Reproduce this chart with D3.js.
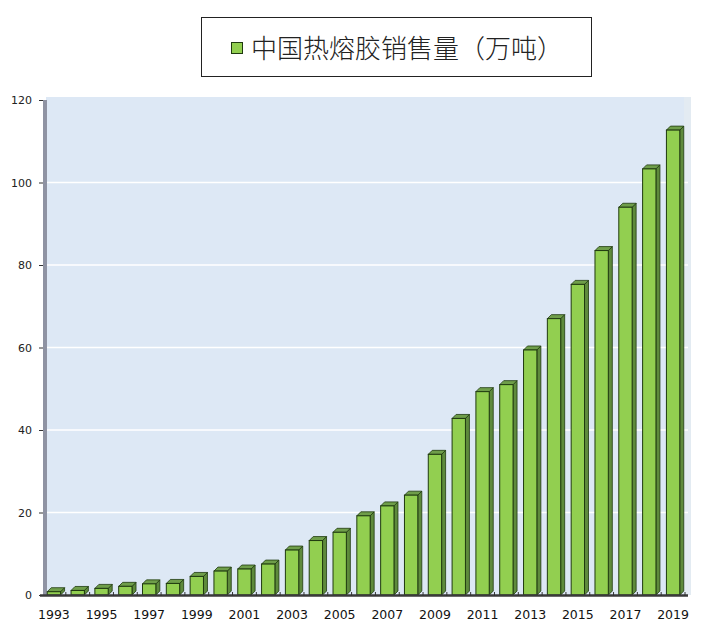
<!DOCTYPE html>
<html>
<head>
<meta charset="utf-8">
<script src="https://cdn.jsdelivr.net/npm/d3@7"></script>
<style>
  body { margin: 0; background: #fff; }
  svg { display: block; }
</style>
</head>
<body>
<div id="chart"></div>
<script>
const years = ["1993","1994","1995","1996","1997","1998","1999","2000","2001","2002",
    "2003","2004","2005","2006","2007","2008","2009","2010","2011","2012",
    "2013","2014","2015","2016","2017","2018","2019"];
const sales = [0.8, 1.1, 1.6, 2.1, 2.7, 2.8, 4.5, 5.8, 6.3, 7.5,
    10.9, 13.2, 15.2, 19.2, 21.6, 24.2, 34.1, 42.8, 49.3, 51.0,
    59.4, 67.0, 75.3, 83.5, 94.0, 103.3, 112.7];
const yTicks = [0, 20, 40, 60, 80, 100, 120];
const legendLabel = "中国热熔胶销售量（万吨）";

const width = 715;
const height = 629;
const depth = 4;

const svg = d3.select("#chart").append("svg")
    .attr("width", width)
    .attr("height", height);

const x = d3.scaleBand().domain(years).range([42, 685]).paddingInner(0.44).paddingOuter(0.22);
const y = d3.scaleLinear().domain([0, 120]).range([595, 100]);

// back wall
svg.append("rect")
    .attr("x", 46).attr("y", y(120) - 3)
    .attr("width", 645).attr("height", y(0) - y(120) + 3)
    .attr("fill", "#dde8f5");
svg.append("rect")
    .attr("x", 684).attr("y", y(120) - 3)
    .attr("width", 7).attr("height", y(0) - y(120) + 3)
    .attr("fill", "#e3ebf2");

// gridlines
svg.append("g")
    .selectAll("line")
    .data(yTicks.filter(d => d > 0 && d < 120))
    .enter().append("line")
    .attr("x1", 47).attr("x2", 688)
    .attr("y1", d => y(d)).attr("y2", d => y(d))
    .attr("stroke", "#ffffff")
    .attr("stroke-width", 1.5);

// left wall strip
svg.append("rect")
    .attr("x", 43).attr("y", y(120))
    .attr("width", 4).attr("height", y(0) - y(120))
    .attr("fill", "#8f93a3");

// y axis
const yAxis = d3.axisLeft(y).tickValues(yTicks).tickSize(4).tickPadding(7);
const gy = svg.append("g")
    .attr("transform", "translate(43,0)")
    .call(yAxis);
gy.select(".domain").remove();
gy.selectAll("line").attr("stroke", "#333");
gy.selectAll("text")
    .attr("font-family", "'DejaVu Sans', sans-serif")
    .attr("font-size", 11)
    .attr("fill", "#222");

// bars
const bars = svg.append("g").selectAll(".bar")
    .data(years.map((yr, i) => ({ year: yr, value: sales[i] })))
    .enter().append("g")
    .attr("class", "bar");

// side face
bars.append("path")
    .attr("d", d => {
        const x1 = x(d.year) + x.bandwidth();
        const t = y(d.value), b = y(0);
        return "M" + x1 + "," + t + "L" + (x1 + depth) + "," + (t - depth) +
            "L" + (x1 + depth) + "," + (b - depth) + "L" + x1 + "," + b + "Z";
    })
    .attr("fill", "#5e8a3c")
    .attr("stroke", "#1f3a0f")
    .attr("stroke-width", 0.8);

// top face
bars.append("path")
    .attr("d", d => {
        const x0 = x(d.year), x1 = x0 + x.bandwidth();
        const t = y(d.value);
        return "M" + x0 + "," + t + "L" + (x0 + depth) + "," + (t - depth) +
            "L" + (x1 + depth) + "," + (t - depth) + "L" + x1 + "," + t + "Z";
    })
    .attr("fill", "#6f9e4a")
    .attr("stroke", "#1f3a0f")
    .attr("stroke-width", 0.8);

// front face
bars.append("rect")
    .attr("x", d => x(d.year))
    .attr("y", d => y(d.value))
    .attr("width", x.bandwidth())
    .attr("height", d => y(0) - y(d.value))
    .attr("fill", "#92cf50")
    .attr("stroke", "#1f3a0f")
    .attr("stroke-width", 1);

// floor / x axis line
svg.append("line")
    .attr("x1", 40).attr("x2", 688)
    .attr("y1", y(0) + 0.5).attr("y2", y(0) + 0.5)
    .attr("stroke", "#3a3a3a")
    .attr("stroke-width", 2.5);

// x ticks between categories
const step = x.step();
svg.append("g").selectAll("line")
    .data(years)
    .enter().append("line")
    .attr("x1", d => x(d) + x.bandwidth() + (step - x.bandwidth()) / 2)
    .attr("x2", d => x(d) + x.bandwidth() + (step - x.bandwidth()) / 2)
    .attr("y1", y(0) - 3).attr("y2", y(0) + 1)
    .attr("stroke", "#333");

// x labels
svg.append("g").selectAll("text")
    .data(years.filter((d, i) => i % 2 === 0))
    .enter().append("text")
    .attr("x", d => x(d) + x.bandwidth() / 2)
    .attr("y", 619)
    .attr("text-anchor", "middle")
    .attr("font-family", "'DejaVu Sans', sans-serif")
    .attr("font-size", 12.5)
    .attr("fill", "#111")
    .text(d => d);

// legend
const legend = svg.append("g");
legend.append("rect")
    .attr("x", 201.5).attr("y", 17.5)
    .attr("width", 390).attr("height", 59)
    .attr("fill", "#fff")
    .attr("stroke", "#222")
    .attr("stroke-width", 1);
legend.append("rect")
    .attr("x", 231.5).attr("y", 42.5)
    .attr("width", 11).attr("height", 11)
    .attr("fill", "#92cf50")
    .attr("stroke", "#1f3a0f");
legend.append("text")
    .attr("x", 251)
    .attr("y", 58)
    .attr("font-family", "'Noto Sans CJK SC', sans-serif")
    .attr("font-size", 26)
    .attr("font-weight", 300)
    .attr("fill", "#222")
    .text(legendLabel);
</script>
</body>
</html>
